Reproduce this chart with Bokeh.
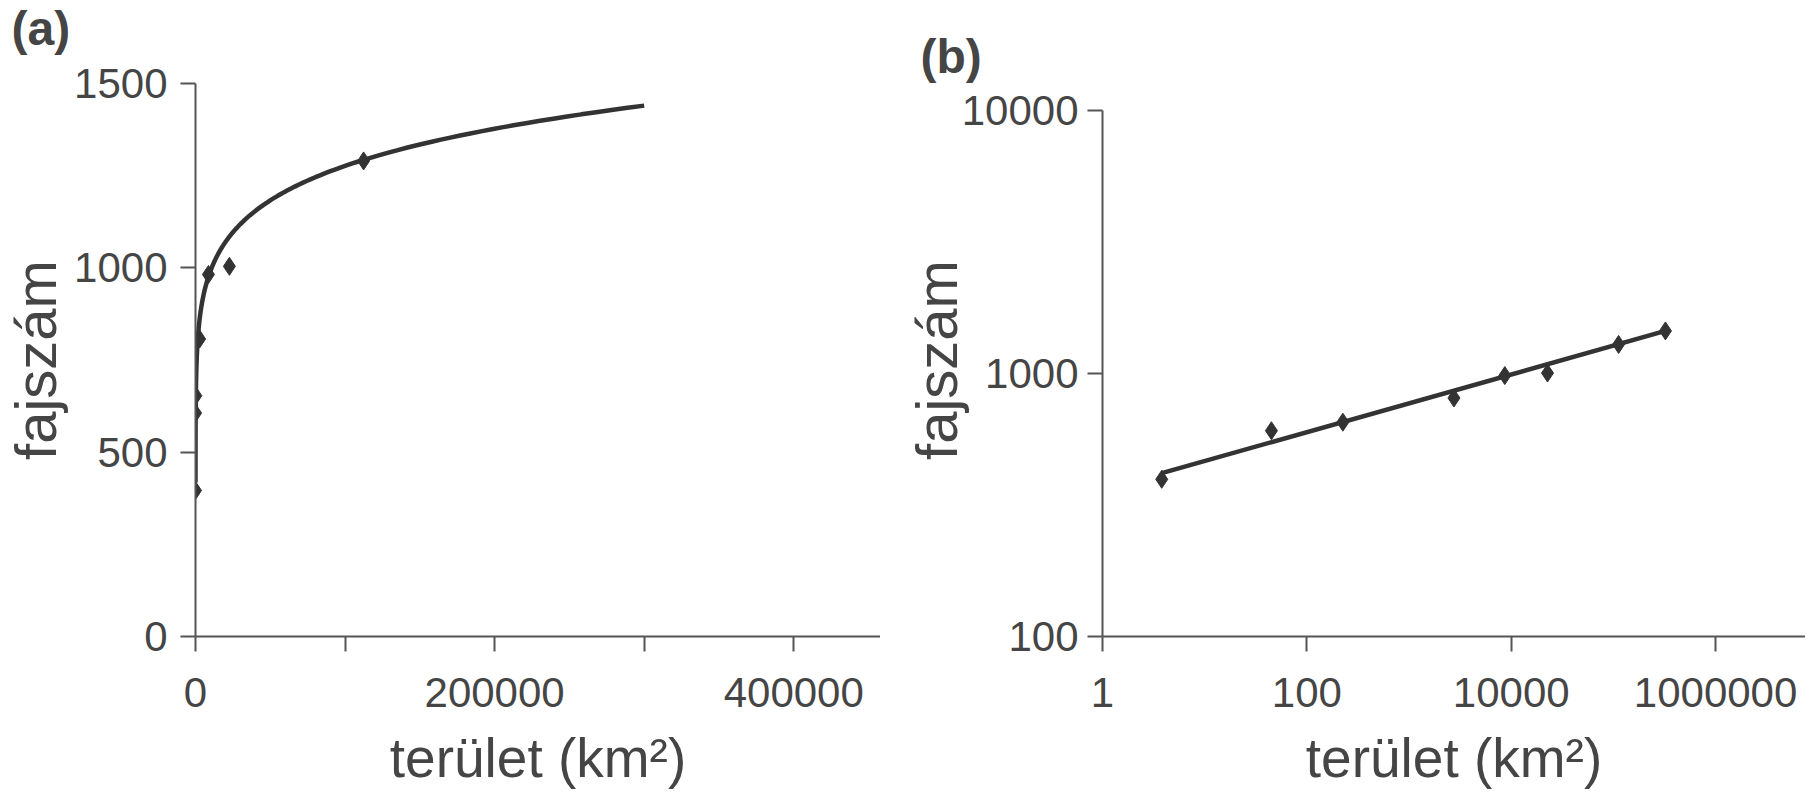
import numpy as np
from bokeh.plotting import figure
from bokeh.models import Range1d, FixedTicker, NumeralTickFormatter, Title
from bokeh.layouts import row
from bokeh.embed import file_html
from bokeh.resources import INLINE

# ---- data ----
area_km2 = [3.8, 45, 225, 2750, 8650, 22650, 112400, 323000]
species = [396, 606, 653, 807, 982, 1004, 1290, 1452]
n_points_a = 7                      # panel (a) shows the first seven points
trend_c = 361.0                     # power-law trendline S = c * A^z
trend_z = 0.1097
trend_a_end = 300000                # end of the curve in panel (a)

x_ticks_a = [0, 200000, 400000]
x_minor_a = [100000, 300000]
y_ticks_a = [0, 500, 1000, 1500]
x_ticks_b = [1, 100, 10000, 1000000]
y_ticks_b = [100, 1000, 10000]

x_label = "terület (km²)"
y_label = "fajszám"
panel_titles = ["(a)", "(b)"]

FONT = "Liberation Sans"
TXT = "#454545"
INK = "#333333"
AX = "#555555"
TICK_FS = "42px"
XTITLE_FS = "55px"
YTITLE_FS = "58px"

# layout (pixels)
FRAME_TOP = 83
FRAME_H = 553
BOTTOM = 156


def style_axis(ax, label, fs):
    ax.axis_label = label
    ax.axis_label_text_font = FONT
    ax.axis_label_text_font_style = "normal"
    ax.axis_label_text_font_size = fs
    ax.axis_label_text_color = TXT
    ax.major_label_text_font = FONT
    ax.major_label_text_font_size = TICK_FS
    ax.major_label_text_color = TXT
    ax.axis_line_color = AX
    ax.axis_line_width = 2
    ax.major_tick_line_color = AX
    ax.major_tick_line_width = 2
    ax.minor_tick_line_color = AX
    ax.minor_tick_line_width = 2
    ax.major_tick_in = 0
    ax.major_tick_out = 15
    ax.minor_tick_in = 0
    ax.minor_tick_out = 15
    ax.formatter = NumeralTickFormatter(format="0")


def base_fig(**kw):
    p = figure(output_backend="svg", toolbar_location=None, title=None, **kw)
    p.grid.visible = False
    p.outline_line_color = None
    p.background_fill_color = "white"
    p.border_fill_color = "white"
    return p


def add_letter(p, text, offset, standoff, spacer, valign):
    if spacer > 0:
        # invisible spacer title between the frame and the panel letter
        p.add_layout(Title(text=" ", text_font_size="1px", standoff=spacer), "above")
    p.add_layout(Title(text=text, align="left", offset=offset, standoff=standoff,
                       vertical_align=valign,
                       text_font=FONT, text_font_size="48px",
                       text_font_style="bold", text_color=TXT), "above")


# ---- panel (a): linear axes ----
pa = base_fig(frame_width=685, frame_height=FRAME_H,
              x_range=Range1d(0, 458000), y_range=Range1d(0, 1500),
              min_border_left=190, min_border_right=0,
              min_border_top=FRAME_TOP, min_border_bottom=BOTTOM)
style_axis(pa.xaxis[0], x_label, XTITLE_FS)
style_axis(pa.yaxis[0], y_label, YTITLE_FS)
pa.xaxis[0].ticker = FixedTicker(ticks=x_ticks_a, minor_ticks=x_minor_a)
pa.yaxis[0].ticker = FixedTicker(ticks=y_ticks_a, minor_ticks=[])
pa.xaxis[0].major_label_standoff = 26
pa.yaxis[0].major_label_standoff = 13
pa.xaxis[0].axis_label_standoff = 17
pa.yaxis[0].axis_label_standoff = 3

curve_x = np.geomspace(area_km2[0], trend_a_end, 300)
curve_y = trend_c * curve_x ** trend_z
pa.line(curve_x, curve_y, line_color=INK, line_width=4.5)
pa.scatter(area_km2[:n_points_a], species[:n_points_a], marker="diamond",
           size=18, fill_color=INK, line_color=INK)
add_letter(pa, panel_titles[0], -184, 0, 24, "top")

# ---- panel (b): log-log axes ----
decade_px = (FRAME_H - 27) / 2.0          # 10000 tick sits 27 px below frame top
y_top_b = 10 ** (4 + 27 / decade_px)
pb = base_fig(frame_width=703, frame_height=FRAME_H,
              x_axis_type="log", y_axis_type="log",
              x_range=Range1d(1, 10 ** 6.88), y_range=Range1d(100, y_top_b),
              min_border_left=222, min_border_right=0,
              min_border_top=FRAME_TOP, min_border_bottom=BOTTOM)
style_axis(pb.xaxis[0], x_label, XTITLE_FS)
style_axis(pb.yaxis[0], y_label, YTITLE_FS)
pb.yaxis[0].bounds = (100, 10000)
pb.xaxis[0].ticker = FixedTicker(ticks=x_ticks_b, minor_ticks=[])
pb.yaxis[0].ticker = FixedTicker(ticks=y_ticks_b, minor_ticks=[])
pb.xaxis[0].major_label_standoff = 26
pb.yaxis[0].major_label_standoff = 9
pb.xaxis[0].axis_label_standoff = 17
pb.yaxis[0].axis_label_standoff = -10

line_x = [area_km2[0], area_km2[-1]]
line_y = [trend_c * v ** trend_z for v in line_x]
pb.line(line_x, line_y, line_color=INK, line_width=4.5)
pb.scatter(area_km2, species, marker="diamond", size=18,
           fill_color=INK, line_color=INK)
add_letter(pb, panel_titles[1], -182, 2, 0, "bottom")

layout = row(pa, pb, spacing=0)
open("out.html", "w").write(file_html(layout, INLINE))
